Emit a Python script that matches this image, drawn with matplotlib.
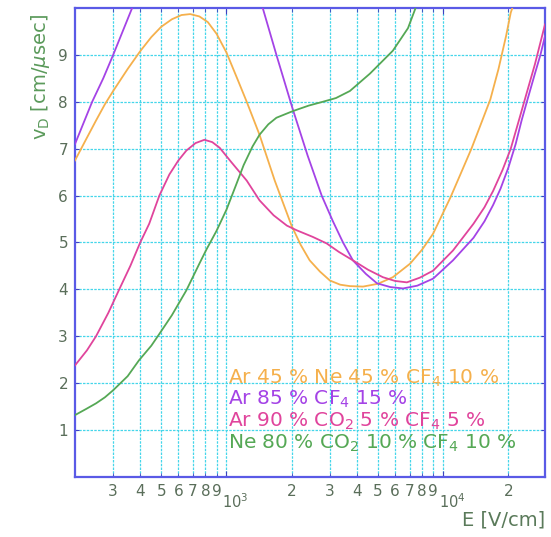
import numpy as np
import matplotlib
matplotlib.use("Agg")
import matplotlib.pyplot as plt
import matplotlib.transforms as mtransforms
from matplotlib.ticker import FixedLocator, FixedFormatter

# Drift velocity vs. field
E_ORANGE = [200, 225, 250, 275, 300, 350, 400, 450, 500, 560, 620, 680, 750, 820, 900, 1000,
            1120, 1240, 1420, 1670, 2000, 2200, 2420, 2700, 3000, 3350, 3710, 4270, 5000,
            5860, 7040, 8000, 8990, 10800, 12000, 13500, 15000, 16500, 18000, 19500, 20500, 21200]
V_ORANGE = [6.75, 7.2, 7.6, 7.95, 8.23, 8.7, 9.08, 9.38, 9.6, 9.76, 9.85, 9.87, 9.82, 9.7, 9.45, 9.05,
            8.5, 8.0, 7.3, 6.32, 5.35, 4.95, 4.62, 4.38, 4.19, 4.1, 4.07, 4.06, 4.12,
            4.26, 4.55, 4.85, 5.19, 5.96, 6.45, 7.0, 7.55, 8.05, 8.7, 9.4, 9.9, 10.1]

E_PURPLE = [200, 240, 270, 300, 367, np.nan, 1470, 1700, 2020, 2370, 2750, 3100, 3450, 3830,
            4400, 4950, 5700, 6530, 7600, 8990, 11100, 13800, 15500, 17000, 18400, 20000,
            21600, 23000, 24500, 26500, 28100, 29500]
V_PURPLE = [7.1, 8.0, 8.5, 9.0, 10.0, np.nan, 10.0, 9.0, 7.85, 6.85, 6.0, 5.45, 5.0, 4.62,
            4.33, 4.13, 4.05, 4.02, 4.08, 4.23, 4.62, 5.1, 5.45, 5.8, 6.15, 6.6,
            7.1, 7.6, 8.05, 8.6, 9.0, 9.4]

E_MAGENTA = [200, 227, 250, 285, 320, 360, 400, 440, 490, 545, 600, 653, 720, 791, 860, 930,
             1050, 1240, 1420, 1650, 1900, 2110, 2500, 2900, 3300, 3830, 4500, 5270, 6000,
             6800, 7800, 8990, 11100, 13800, 15500, 17000, 18800, 20500, 22500, 24500, 26500, 29500]
V_MAGENTA = [2.38, 2.7, 3.0, 3.5, 4.0, 4.5, 5.0, 5.4, 6.0, 6.45, 6.75, 6.96, 7.12, 7.19, 7.14, 7.02,
             6.72, 6.32, 5.9, 5.58, 5.36, 5.26, 5.12, 4.98, 4.8, 4.62, 4.42, 4.26, 4.18,
             4.15, 4.25, 4.4, 4.83, 5.4, 5.75, 6.1, 6.55, 7.0, 7.65, 8.25, 8.8, 9.65]

E_GREEN = [200, 225, 250, 275, 300, 350, 395, 450, 490, 560, 653, 750, 808, 900, 1000, 1112,
           1200, 1320, 1422, 1560, 1700, 2020, 2400, 2780, 3200, 3710, 4590, 5860, 6880, 7670]
V_GREEN = [1.32, 1.45, 1.57, 1.7, 1.85, 2.15, 2.49, 2.8, 3.05, 3.45, 3.98, 4.55, 4.85, 5.25, 5.7, 6.25,
           6.65, 7.05, 7.3, 7.52, 7.66, 7.8, 7.92, 8.0, 8.08, 8.23, 8.6, 9.09, 9.57, 10.15]

LABELS = [r"Ar 45 % Ne 45 % CF$_4$ 10 %",
          r"Ar 85 % CF$_4$ 15 %",
          r"Ar 90 % CO$_2$ 5 % CF$_4$ 5 %",
          r"Ne 80 % CO$_2$ 10 % CF$_4$ 10 %"]
COLORS = ["#f5b04c", "#a443e6", "#e0449c", "#55a855"]

MINOR_TICKS = [300, 400, 500, 600, 700, 800, 900,
               2000, 3000, 4000, 5000, 6000, 7000, 8000, 9000, 20000]
MINOR_LABELS = ["3", "4", "5", "6", "7", "8", "9",
                "2", "3", "4", "5", "6", "7", "8", "9", "2"]
MAJOR_TICKS = [1000, 10000]
MAJOR_LABELS = [r"$10^3$", r"$10^4$"]
Y_TICKS = [1, 2, 3, 4, 5, 6, 7, 8, 9]

W, H = 551, 537
fig = plt.figure(figsize=(W / 100, H / 100), dpi=100)
ax = fig.add_axes([75 / W, (H - 477) / H, 470 / W, 469 / H])

series = [(E_ORANGE, V_ORANGE), (E_PURPLE, V_PURPLE), (E_MAGENTA, V_MAGENTA), (E_GREEN, V_GREEN)]
for (e, v), c in zip(series, COLORS):
    ax.plot(e, v, color=c, lw=1.3, zorder=3)

ax.set_xscale("log")
ax.set_xlim(200, 29500)
ax.set_ylim(0, 10)

ax.xaxis.set_major_locator(FixedLocator(MAJOR_TICKS))
ax.xaxis.set_major_formatter(FixedFormatter(MAJOR_LABELS))
ax.xaxis.set_minor_locator(FixedLocator(MINOR_TICKS))
ax.xaxis.set_minor_formatter(FixedFormatter(MINOR_LABELS))
ax.set_yticks(Y_TICKS)

grid_kw = dict(color="#45d6ea", lw=0.9, ls=(0, (2, 1)))
ax.grid(True, which="both", axis="x", **grid_kw)
ax.grid(True, which="major", axis="y", **grid_kw)
ax.set_axisbelow(True)

tick_col = "#5a6e5a"
ax.tick_params(which="both", direction="in", top=True, right=True, color="#4040c0",
               length=3, labelcolor=tick_col, labelsize=11)
ax.tick_params(axis="x", which="minor", pad=5)
ax.tick_params(axis="x", which="major", pad=11, length=4, labelsize=10.5)
ax.tick_params(axis="y", pad=5)

# decade labels sit a little right of their tick, like the original
shift = mtransforms.ScaledTranslation(9 / 100, 0, fig.dpi_scale_trans)
for lbl in ax.xaxis.get_majorticklabels():
    lbl.set_transform(lbl.get_transform() + shift)

for s in ax.spines.values():
    s.set_color("#5a5ae6")
    s.set_linewidth(1.6)

# legend as coloured text lines
for i, (lab, c) in enumerate(zip(LABELS, COLORS)):
    fig.text(228 / W, 1 - (378 + i * 21.7) / H, lab, color=c, fontsize=14.5,
             ha="left", va="center")

fig.text(40 / W, 1 - 77 / H, r"v$_\mathrm{D}$ [cm/$\mu$sec]", color="#5b9a5b",
         fontsize=14, rotation=90, ha="center", va="center")
fig.text(545 / W, 1 - 520 / H, "E [V/cm]", color="#5a7a5a", fontsize=14,
         ha="right", va="center")

fig.savefig("out.png", dpi=100)
